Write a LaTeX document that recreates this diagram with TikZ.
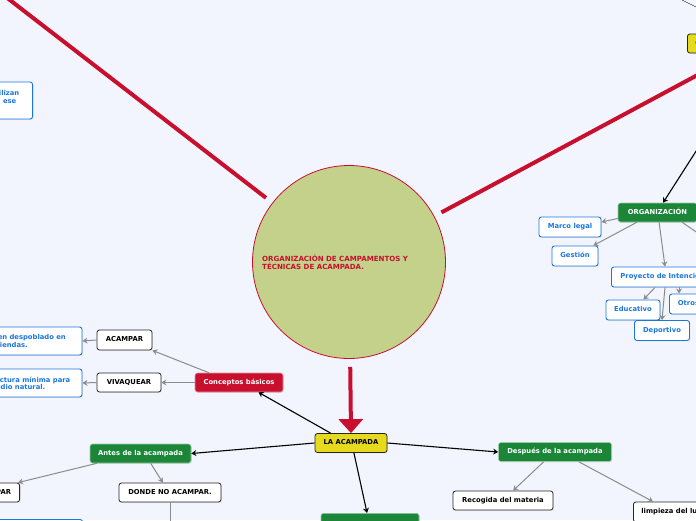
\documentclass[tikz,border=0pt]{standalone}
\usepackage{fontspec}
\setmainfont{DejaVu Sans}
\usetikzlibrary{arrows.meta,calc,shadows}
\definecolor{bgc}{RGB}{242,245,254}
\definecolor{crim}{RGB}{200,16,46}
\definecolor{olive}{RGB}{195,209,139}
\definecolor{grn}{RGB}{28,134,56}
\definecolor{yel}{RGB}{229,218,30}
\definecolor{blu}{RGB}{28,118,222}
\definecolor{gry}{RGB}{140,140,140}
\newcommand{\fnt}{\bfseries\fontsize{6.8}{8.5}\selectfont}
\newcommand{\tfnt}{\bfseries\fontsize{7.05}{8.7}\selectfont}
\tikzset{
 base/.style={rounded corners=2.5pt, inner sep=0pt, font=\fnt, text height=5pt, text depth=1.3pt,
   drop shadow={opacity=0.18,shadow xshift=0.8pt,shadow yshift=-0.8pt}},
 blk/.style={base, draw=black!85, fill=white, line width=0.8pt, text=black},
 bl/.style={base, draw=blu, fill=white, line width=0.9pt, text=blu},
 gr/.style={base, draw=white!55!grn, fill=grn, text=white, line width=0.6pt},
 yl/.style={base, draw=black!85, fill=yel, line width=0.8pt, text=black},
 rd/.style={base, draw=white!55!crim, fill=crim, text=white, line width=0.6pt},
 txt/.style={inner sep=0pt, font=\fnt, anchor=base east},
 garr/.style={draw=gry, line width=1pt, -{Stealth[length=5pt,width=6pt]}},
 barr/.style={draw=black, line width=1.1pt, -{Stealth[length=5pt,width=6pt]}},
 redl/.style={draw=crim, line width=4pt},
}
\begin{document}
\begin{tikzpicture}[x=1pt,y=-1pt]
\fill[bgc] (0,0) rectangle (696,520);
\clip (0,0) rectangle (696,520);

% off-screen coordinates
\coordinate (tl) at (6,-3);
\coordinate (tr) at (705,71);
\coordinate (yin) at (700,145);
\coordinate (top1) at (682,0);
\coordinate (top2) at (700,9);
\coordinate (orgr) at (705,238);
\coordinate (dnd) at (170,530);

% central circle
\node[circle, draw=crim, line width=0.8pt, fill=olive, minimum size=193pt, inner sep=0pt] (circ) at (349,262) {};
\node[inner sep=0pt, font=\tfnt, text=crim, align=left, anchor=west] (title) at (262,262.3)
  {ORGANIZACIÓN DE CAMPAMENTOS Y\\TÉCNICAS DE ACAMPADA.};

\draw[redl, shorten <=8pt] (circ) -- (tl);
\draw[redl, shorten <=8pt] (circ) -- (tr);

% right branch
\node[yl, minimum height=19pt, inner xsep=8pt, anchor=west] (yel1) at (687,43.5) {CAMPAMENTOS};
\node[gr, minimum width=79pt, minimum height=19pt] (org) at (657.5,212.5) {ORGANIZACIÓN};
\node[bl, minimum width=62pt, minimum height=20pt] (marco) at (570,227) {Marco legal};
\node[bl, minimum width=46pt, minimum height=20pt] (gest) at (575,256) {Gestión};
\node[bl, minimum height=20pt, inner xsep=9pt, anchor=west] (proy) at (611,277) {Proyecto de Intención};
\node[bl, minimum width=54pt, minimum height=20pt] (educ) at (633,310) {Educativo};
\node[bl, minimum height=20pt, inner xsep=8.5pt, anchor=west] (otros) at (669,304) {Otros};
\node[bl, minimum width=55pt, minimum height=20pt] (dep) at (662,330.5) {Deportivo};

\draw (top1) -- (top2);
\draw[barr] (yin) -- ($(org.north west)!0.57!(org.north east)$);
\draw[garr] ($(org.west)+(0,6)$) -- ($(marco.east)+(0,-5)$);
\draw[garr] ($(org.south west)!0.24!(org.south east)$) -- ($(gest.north west)!0.89!(gest.north east)$);
\draw[garr] ($(org.south west)!0.52!(org.south east)$) -- ($(proy.north west)+(54,0)$);
\draw[draw=gry, line width=1pt] ($(org.south west)!0.81!(org.south east)$) -- (orgr);
\draw[garr] ($(proy.south west)+(44,0)$) -- ($(educ.north west)!0.69!(educ.north east)$);
\draw[garr] ($(proy.south west)+(54,0)$) -- ($(dep.north west)!0.5!(dep.north east)$);
\draw[garr] ($(proy.south west)+(68,0)$) -- ($(otros.north west)+(10,0)$);

% top-left partial box
\node[bl, minimum width=60pt, minimum height=37pt, anchor=east] (tlb) at (33,100.5) {};
\node[txt, text=blu] (tlb1) at (19.5,95.5) {utilizan};
\node[txt, text=blu] (tlb2) at (16.5,103) {ese};

% conceptos basicos
\node[bl, minimum width=122pt, minimum height=28pt] (bb1) at (21,341) {};
\node[txt, text=blu] (bb1a) at (66,339.8) {en despoblado en};
\node[txt, text=blu] (bb1b) at (28,347.5) {tiendas.};
\node[bl, minimum width=122pt, minimum height=28pt] (bb2) at (21,383) {};
\node[txt, text=blu] (bb2a) at (70.5,382.5) {estructura mínima para};
\node[txt, text=blu] (bb2b) at (45.5,389.2) {medio natural.};
\node[blk, minimum width=55pt, minimum height=20pt] (acampar) at (124.5,340) {ACAMPAR};
\node[blk, minimum width=64pt, minimum height=19pt] (viva) at (129,382.5) {VIVAQUEAR};
\node[rd, minimum width=88pt, minimum height=19pt] (cb) at (239,382.5) {Conceptos básicos};

\draw[garr] ($(cb.north west)!0.16!(cb.north east)$) -- (acampar.south east);
\draw[garr] (cb.west) -- (viva.east);
\draw[garr] (acampar.west) -- (bb1.east);
\draw[garr] (viva.west) -- (bb2.east);

% la acampada
\node[yl, minimum width=72pt, minimum height=19pt] (la) at (351,443) {LA ACAMPADA};
\draw[crim, line width=4pt, shorten <=8pt, -{Triangle[width=24pt,length=14pt]}] (circ) -- (la.north);

\node[gr, minimum width=101pt, minimum height=19pt] (antes) at (140.5,453.5) {Antes de la acampada};
\node[blk, minimum height=19pt, inner xsep=8.5pt, anchor=east] (da) at (20,492.5) {DONDE ACAMPAR};
\node[blk, minimum width=102pt, minimum height=19pt] (dna) at (170,492.5) {DONDE NO ACAMPAR.};
\node[bl, minimum width=110pt, minimum height=20pt, anchor=north east] (blb) at (83,519) {};
\node[gr, minimum width=113pt, minimum height=19pt] (desp) at (555,452) {Después de la acampada};
\node[blk, minimum width=100pt, minimum height=19pt] (rec) at (503,500.5) {Recogida del materia};
\node[blk, minimum height=20pt, inner xsep=8pt, anchor=west] (limp) at (633,512) {limpieza del lugar};
\node[gr, minimum width=98pt, minimum height=20pt, anchor=north] (bot) at (370,513) {};

\draw[barr] ($(la.north west)!0.22!(la.north east)$) -- ($(cb.south west)!0.72!(cb.south east)$);
\draw[barr] (la.west) -- (antes.east);
\draw[barr] (la.east) -- (desp.west);
\draw[barr] ($(la.south west)!0.54!(la.south east)$) -- ($(bot.north west)!0.47!(bot.north east)$);

\draw[garr] ($(antes.south west)!0.07!(antes.south east)$) -- ($(da.north east)+(-2,0)$);
\draw[garr] ($(antes.south west)!0.6!(antes.south east)$) -- ($(dna.north west)!0.43!(dna.north east)$);
\draw[draw=gry, line width=1pt] (dna.south) -- (dnd);
\draw[garr] ($(desp.south west)!0.4!(desp.south east)$) -- ($(rec.north west)!0.6!(rec.north east)$);
\draw[garr] ($(desp.south west)!0.71!(desp.south east)$) -- ($(limp.north west)+(20,0)$);
\end{tikzpicture}
\end{document}
